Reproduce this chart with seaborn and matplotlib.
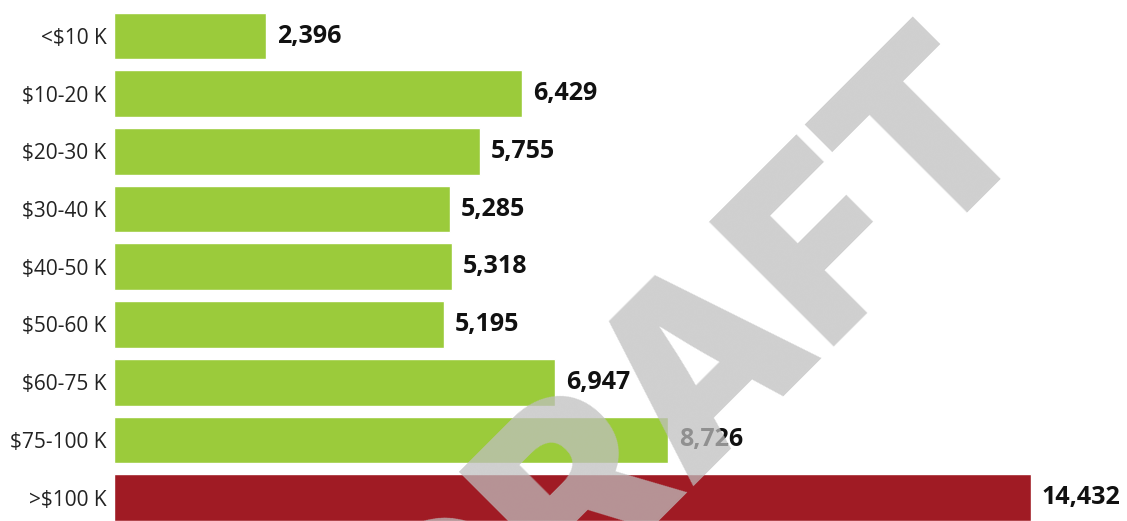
import matplotlib
matplotlib.use("Agg")
import matplotlib.pyplot as plt
import seaborn as sns

# income bands and counts
categories = ['<$10 K', '$10-20 K', '$20-30 K', '$30-40 K', '$40-50 K',
              '$50-60 K', '$60-75 K', '$75-100 K', '>$100 K']
values = [2396, 6429, 5755, 5285, 5318, 5195, 6947, 8726, 14432]
colors = ['#9bcb3b'] * 8 + ['#a01b24']

sns.set_style('white')
plt.rcParams['font.family'] = ['Open Sans', 'DejaVu Sans']

fig = plt.figure(figsize=(11.27, 5.21), dpi=100)
ax = fig.add_axes([0.1014, 0.0, 0.8986, 1.0])

sns.barplot(x=values, y=categories, hue=categories, palette=colors,
            legend=False, width=0.81, saturation=1, orient='h', ax=ax)

for cont in ax.containers:
    ax.bar_label(cont, labels=[f"{v:,.0f}" for v in cont.datavalues],
                 padding=8, fontsize=18, fontweight='bold', color='#111111')

ax.set_xlim(0, 15950)
ax.set_ylim(8.406, -0.624)
ax.set_xlabel('')
ax.set_ylabel('')
ax.xaxis.set_visible(False)
ax.tick_params(axis='y', length=0, pad=5.5, labelsize=15, labelcolor='#222222')
sns.despine(ax=ax, left=True, bottom=True)

# watermark
fig.text(1040 / 1127, 1 - 128 / 521, 'DRAFT', rotation=45, rotation_mode='anchor',
         ha='right', va='baseline', fontsize=174, fontweight=900,
         family='Inter', color='#bfbfbf', alpha=0.74, zorder=10)

fig.savefig('out.png', dpi=100)
